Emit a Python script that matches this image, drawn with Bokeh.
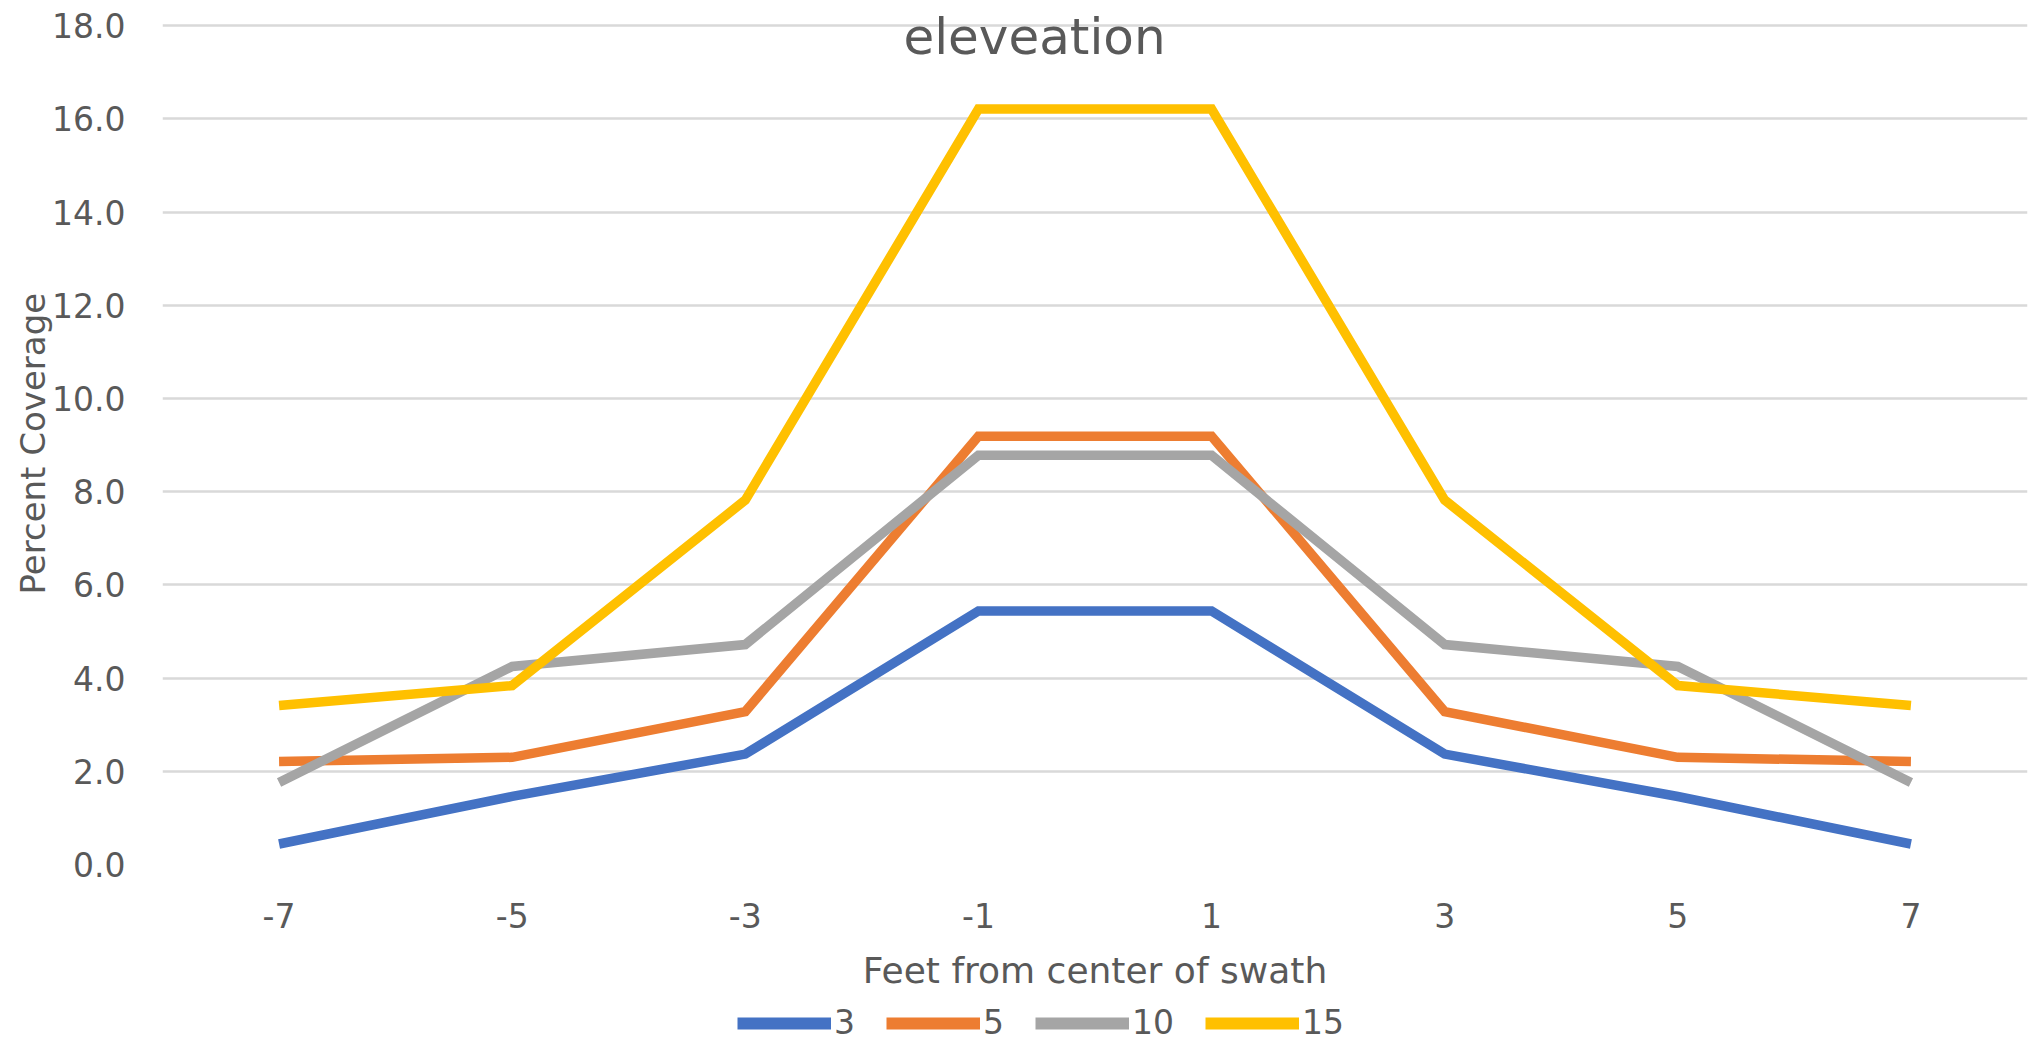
from bokeh.plotting import figure
from bokeh.layouts import column
from bokeh.models import (FactorRange, Range1d, FixedTicker, NumeralTickFormatter, Legend,
                          LegendItem, Label, Title)
from bokeh.embed import file_html
from bokeh.resources import INLINE

feet = ["-7", "-5", "-3", "-1", "1", "3", "5", "7"]
elev_3 = [0.44, 1.46, 2.37, 5.44, 5.44, 2.37, 1.46, 0.44]
elev_5 = [2.21, 2.30, 3.28, 9.19, 9.19, 3.28, 2.30, 2.21]
elev_10 = [1.76, 4.25, 4.72, 8.78, 8.78, 4.72, 4.25, 1.76]
elev_15 = [3.41, 3.84, 7.82, 16.21, 16.21, 7.82, 3.84, 3.41]
series_names = ["3", "5", "10", "15"]
y_ticks = [0, 2, 4, 6, 8, 10, 12, 14, 16, 18]

colors = ["#4472C4", "#ED7D31", "#A5A5A5", "#FFC000"]
FONT = "DejaVu Sans"
TXT = "#595959"

# frame reaches the top edge so the chart title (drawn inside it) is not clipped;
# 18.0 still sits 25px below the top edge
p = figure(width=2034, height=1004, output_backend="svg", toolbar_location=None,
           x_range=FactorRange(*feet, range_padding=0), y_range=Range1d(0, 18.54),
           min_border_left=162, min_border_right=7, min_border_top=0, min_border_bottom=140)
p.outline_line_color = None
p.background_fill_color = "white"
p.border_fill_color = "white"

p.xgrid.grid_line_color = None
p.ygrid.grid_line_color = "#D9D9D9"
p.ygrid.grid_line_width = 2.5
p.yaxis.ticker = FixedTicker(ticks=y_ticks)
p.yaxis.formatter = NumeralTickFormatter(format="0.0")

for ax in (p.xaxis[0], p.yaxis[0]):
    ax.axis_line_color = None
    ax.major_tick_line_color = None
    ax.minor_tick_line_color = None
    ax.major_tick_out = 0
    ax.major_tick_in = 0
    ax.major_label_text_font = FONT
    ax.major_label_text_font_size = "33px"
    ax.major_label_text_color = TXT
    ax.axis_label_text_font = FONT
    ax.axis_label_text_color = TXT
    ax.axis_label_text_font_style = "normal"

p.yaxis.major_label_standoff = 37
p.xaxis.major_label_standoff = 38
p.xaxis.axis_label = "Feet from center of swath"
p.xaxis.axis_label_text_font_size = "36px"
p.xaxis.axis_label_standoff = 19

ytitle = Title(text="Percent Coverage", align="left", offset=270, standoff=-6,
               text_font=FONT, text_font_size="34px", text_color=TXT,
               text_font_style="normal")
p.add_layout(ytitle, "left")

all_series = [elev_3, elev_5, elev_10, elev_15]
for vals, c in zip(all_series, colors):
    p.line(feet, vals, line_color=c, line_width=9.5, line_join="miter", line_cap="butt")

title = Label(x=872, y=828, x_units="screen", y_units="screen", text="eleveation",
              text_font=FONT, text_font_size="50px", text_color=TXT,
              text_align="center", text_baseline="middle")
p.add_layout(title)

# legend strip below the chart
lg = figure(width=2034, height=38, output_backend="svg", toolbar_location=None,
            x_range=Range1d(0, 1), y_range=Range1d(0, 1), x_axis_type=None, y_axis_type=None,
            min_border_left=162, min_border_right=7, min_border_top=0, min_border_bottom=0)
lg.outline_line_color = None
lg.xgrid.grid_line_color = None
lg.ygrid.grid_line_color = None
items = []
for name, c in zip(series_names, colors):
    # legend-only proxy, kept outside the visible range of the strip
    proxy = lg.line(x=[-2, -1], y=[-2, -2], line_color=c, line_width=12, line_cap="butt")
    items.append(LegendItem(label=name, renderers=[proxy]))
legend = Legend(items=items, orientation="horizontal", location=(575, 0),
                glyph_width=94, glyph_height=20, label_standoff=3, spacing=31,
                label_width=0, padding=0, margin=0, border_line_color=None,
                background_fill_alpha=0,
                label_text_font=FONT, label_text_font_size="33px", label_text_color=TXT)
lg.add_layout(legend, "center")

open("out.html", "w").write(file_html(column(p, lg, spacing=0), INLINE))
